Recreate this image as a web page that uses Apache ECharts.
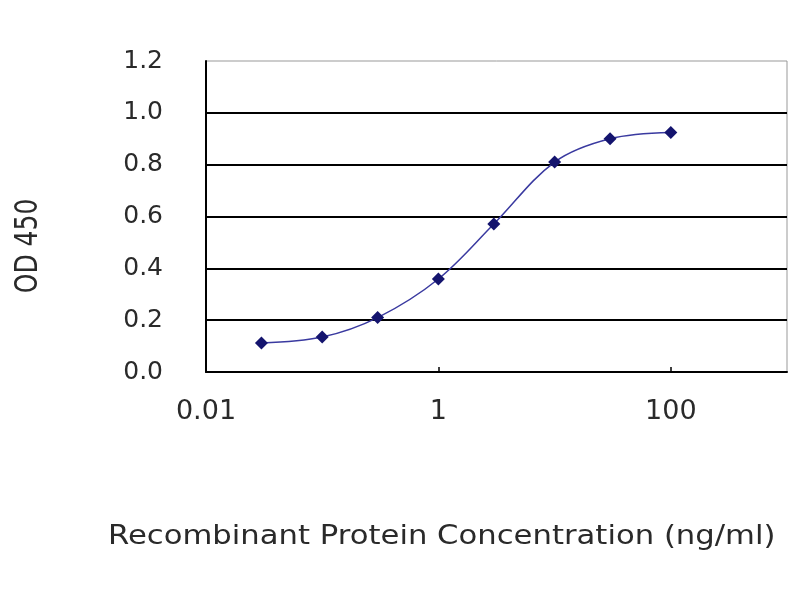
<!DOCTYPE html>
<html>
<head>
<meta charset="utf-8">
<script src="https://cdn.jsdelivr.net/npm/echarts@6/dist/echarts.min.js"></script>
<style>html,body{margin:0;padding:0;background:#fff}#c{width:800px;height:600px}</style>
</head>
<body>
<div id="c"></div>
<script>
const concentrations = [0.03, 0.1, 0.3, 1, 3, 10, 30, 100];
const od450 = [0.112, 0.135, 0.21, 0.359, 0.571, 0.81, 0.90, 0.924];
const xTickLabels = ['0.01', '1', '100'];
const yTickLabels = ['0.0', '0.2', '0.4', '0.6', '0.8', '1.0', '1.2'];
const xTitle = 'Recombinant Protein Concentration (ng/ml)';
const yTitle = 'OD 450';

const chart = echarts.init(document.getElementById('c'), null, {renderer: 'canvas'});
const font = 'DejaVu Sans';
chart.setOption({
  backgroundColor: '#fff',
  animation: false,
  grid: {left: 206, top: 61, right: 13, bottom: 228, show: true, borderColor: '#999', borderWidth: 1, backgroundColor: '#fff'},
  xAxis: {
    type: 'log', logBase: 10, min: 0.01, max: 1000, interval: 2,
    axisLine: {show: true, lineStyle: {color: '#000', width: 2}},
    axisTick: {show: true, inside: true, length: 5, lineStyle: {color: '#000', width: 1.5}},
    splitLine: {show: false},
    minorTick: {show: false},
    axisLabel: {
      margin: 26, color: '#2a2a2a', fontFamily: font, fontSize: 27, showMaxLabel: false,
      formatter: v => { const s = String(+v.toPrecision(6)); return xTickLabels.includes(s) ? s : ''; }
    }
  },
  yAxis: {
    type: 'value', min: 0, max: 1.2, interval: 0.2,
    axisLine: {show: true, lineStyle: {color: '#000', width: 2}},
    axisTick: {show: false},
    splitLine: {show: true, showMaxLine: false, lineStyle: {color: '#000', width: 2}},
    axisLabel: {
      margin: 43, color: '#2a2a2a', fontFamily: font, fontSize: 25,
      formatter: v => yTickLabels[Math.round(v / 0.2)]
    }
  },
  graphic: [
    {type: 'text', x: 108, y: 537, scaleX: 1.18,
     style: {text: xTitle, font: '26px "DejaVu Sans"', fill: '#2a2a2a', align: 'left', verticalAlign: 'middle'}},
    {type: 'text', x: 29, y: 246, rotation: Math.PI / 2, scaleY: 1.3,
     style: {text: yTitle, font: '25px "DejaVu Sans"', fill: '#2a2a2a', align: 'center', verticalAlign: 'middle'}}
  ],
  series: [{
    type: 'line',
    data: concentrations.map((c, i) => [c, od450[i]]),
    smooth: 0.35,
    symbol: 'diamond', symbolSize: 13,
    lineStyle: {color: '#3a3aa0', width: 1.5},
    itemStyle: {color: '#14146e'}
  }]
});
</script>
</body>
</html>
